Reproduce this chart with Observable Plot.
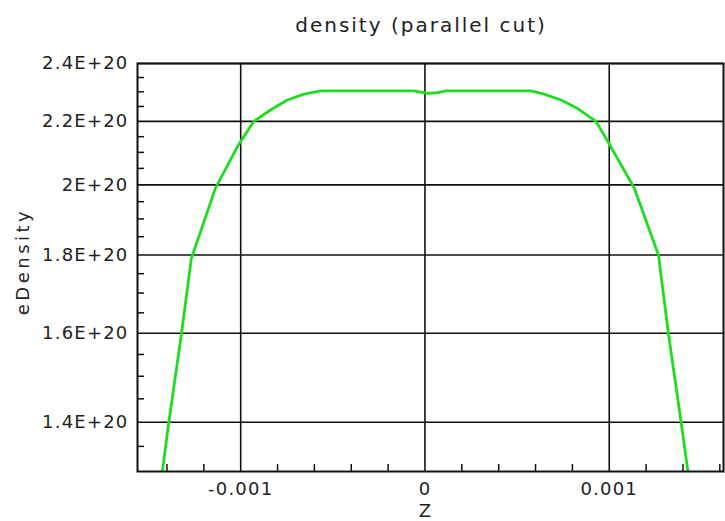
<!DOCTYPE html>
<html>
<head>
<meta charset="utf-8">
<script src="https://cdn.jsdelivr.net/npm/d3@7"></script>
<script src="https://cdn.jsdelivr.net/npm/@observablehq/plot@0.6"></script>
<style>
  html, body { margin: 0; padding: 0; background: #fff; }
  #wrap { width: 725px; height: 521px; position: relative; overflow: hidden; }
  #title { position: relative; height: 40px; }
  #title span {
    position: absolute; left: 421px; top: 15px; transform: translateX(-50%);
    font-family: "DejaVu Sans", sans-serif; font-size: 20px; line-height: 20px;
    letter-spacing: 2px; color: #222; white-space: nowrap;
  }
</style>
</head>
<body>
<div id="wrap">
  <div id="title"><span>density (parallel cut)</span></div>
  <div id="chart"></div>
</div>
<script>
// data
const zValues = [-0.001425, -0.00139, -0.001321, -0.001268, -0.001137, -0.00101, -0.000929, -0.000838, -0.000747, -0.000657, -0.000567,
                 -0.00006, 0.000015, 0.00007, 0.000115,
                 0.000575, 0.000647, 0.000738, 0.000829, 0.000928, 0.000997, 0.001136, 0.001267, 0.001321, 0.00139, 0.001427];
const eDensity = [1.30e20, 1.40e20, 1.60e20, 1.79e20, 1.99e20, 2.126e20, 2.20e20, 2.238e20, 2.272e20, 2.292e20, 2.303e20,
                  2.303e20, 2.295e20, 2.297e20, 2.303e20,
                  2.303e20, 2.292e20, 2.272e20, 2.243e20, 2.20e20, 2.13e20, 1.99e20, 1.80e20, 1.60e20, 1.40e20, 1.30e20];
const xMajor = [-0.001, 0, 0.001];
const xMinor = [-0.0014, -0.0012, -0.0008, -0.0006, -0.0004, -0.0002, 0.0002, 0.0004, 0.0006, 0.0008, 0.0012, 0.0014, 0.0016];
const yMajor = [1.4e20, 1.6e20, 1.8e20, 2.0e20, 2.2e20, 2.4e20];
const yMinor = [1.35e20, 1.45e20, 1.5e20, 1.55e20, 1.65e20, 1.7e20, 1.75e20, 1.85e20, 1.9e20, 1.95e20, 2.05e20, 2.1e20, 2.15e20, 2.25e20, 2.3e20, 2.35e20];
const xDomain = [-0.00156, 0.00162];
const yDomain = [1.3e20, 2.4e20];

const data = zValues.map((z, i) => ({z, d: eDensity[i]}));
const yFmt = d => `${+(d / 1e20).toFixed(2)}E+20`;
const xFmt = d => d === 0 ? "0" : String(d);

const svg = Plot.plot({
  width: 725,
  height: 481,
  marginTop: 23,
  marginBottom: 50,
  marginLeft: 137,
  marginRight: 2,
  style: {fontFamily: "DejaVu Sans, sans-serif", fontSize: "18px", letterSpacing: "1.2px", color: "#222", background: "#fff"},
  x: {domain: xDomain, axis: null},
  y: {type: "log", domain: yDomain, axis: null},
  marks: [
    Plot.gridX(xMajor, {stroke: "#111", strokeOpacity: 1, strokeWidth: 1.6}),
    Plot.gridY(yMajor, {stroke: "#111", strokeOpacity: 1, strokeWidth: 1.6}),
    Plot.axisX(xMinor, {anchor: "bottom", tickSize: -7, fill: "none", stroke: "#111", strokeWidth: 1.5, label: null}),
    Plot.axisY(yMinor, {anchor: "left", tickSize: -7, fill: "none", stroke: "#111", strokeWidth: 1.5, label: null}),
    Plot.line(data, {x: "z", y: "d", stroke: "#1fdc1f", strokeWidth: 2.8, clip: true}),
    Plot.frame({stroke: "#111", strokeWidth: 2}),
    Plot.axisX(xMajor, {anchor: "bottom", tickSize: 0, tickPadding: 11, tickFormat: xFmt, label: null}),
    Plot.axisY(yMajor, {anchor: "left", tickSize: 0, tickPadding: 9, tickFormat: yFmt, label: null}),
    Plot.text(["Z"], {text: d => d, frameAnchor: "bottom", lineAnchor: "middle", textAnchor: "middle", dx: -5, dy: 40, fontSize: 18}),
    Plot.text(["eDensity"], {text: d => d, frameAnchor: "left", lineAnchor: "middle", textAnchor: "middle", dx: -114, dy: -6, rotate: -90, fontSize: 18})
  ]
});
document.getElementById("chart").appendChild(svg);
d3.select(svg).selectAll("text").filter(function() { return this.textContent === "eDensity"; }).style("letter-spacing", "3.5px");
</script>
</body>
</html>
